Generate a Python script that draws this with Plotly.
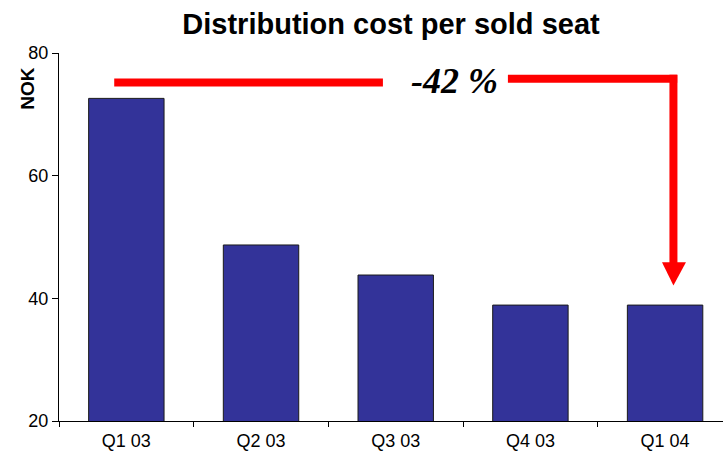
import plotly.graph_objects as go

categories = ["Q1 03", "Q2 03", "Q3 03", "Q4 03", "Q1 04"]
values = [72.6, 48.7, 43.8, 38.9, 38.9]
y_ticks = [20, 40, 60, 80]
title_text = "Distribution cost per sold seat"
y_label = "NOK"
change_label = "-42 %"

fig = go.Figure()
fig.add_trace(go.Bar(
    x=categories, y=values,
    marker=dict(color="#333399", line=dict(color="#1a1a1a", width=1)),
    width=0.56,
))

red = "#ff0000"
# arrow: left segment, right segment, vertical, head
shapes = [
    dict(type="line", xref="x", yref="y", x0=-0.09, x1=1.905, y0=75.2, y1=75.2,
         line=dict(color=red, width=8)),
    dict(type="line", xref="x", yref="y", x0=2.833, x1=4.09, y0=75.8, y1=75.8,
         line=dict(color=red, width=8)),
    dict(type="line", xref="x", yref="y", x0=4.062, x1=4.062, y0=76.45, y1=45.6,
         line=dict(color=red, width=8)),
    dict(type="path", xref="x", yref="y",
         path="M 3.977,45.9 L 4.155,45.9 L 4.062,42.1 Z",
         fillcolor=red, line=dict(color=red, width=0)),
]

fig.update_layout(
    width=723, height=455,
    margin=dict(l=59, r=0, t=53, b=34),
    paper_bgcolor="white", plot_bgcolor="white",
    showlegend=False,
    font=dict(family="Liberation Sans, Arial", color="black", size=18),
    title=dict(text=title_text, x=0.5, xref="paper", y=1 - 24 / 455, yref="container",
               xanchor="center", yanchor="middle",
               font=dict(family="Liberation Sans, Arial", size=29, weight="bold", color="black")),
    xaxis=dict(type="category", range=[-0.5, 4.43], showline=True, linecolor="black",
               linewidth=1, ticks="outside", ticklen=5, tickcolor="black",
               tickson="boundaries", showgrid=False, zeroline=False,
               ticklabelstandoff=3, tickfont=dict(size=18)),
    yaxis=dict(range=[20, 80], tickvals=y_ticks, showline=True, linecolor="black",
               linewidth=1, ticks="outside", ticklen=6, tickcolor="black",
               showgrid=False, zeroline=False, tickfont=dict(size=18)),
    shapes=shapes,
    annotations=[
        dict(text=y_label, xref="paper", yref="paper", x=-0.047, y=0.905,
             textangle=-90, showarrow=False, xanchor="center", yanchor="middle",
             font=dict(family="Liberation Sans, Arial", size=19, weight="bold", color="black")),
        dict(text=change_label, xref="x", yref="y", x=2.44, y=75.4,
             showarrow=False, xanchor="center", yanchor="middle",
             font=dict(family="Liberation Serif, Times New Roman", size=36,
                       weight="bold", style="italic", color="black")),
    ],
)

fig.write_html("out.html")
